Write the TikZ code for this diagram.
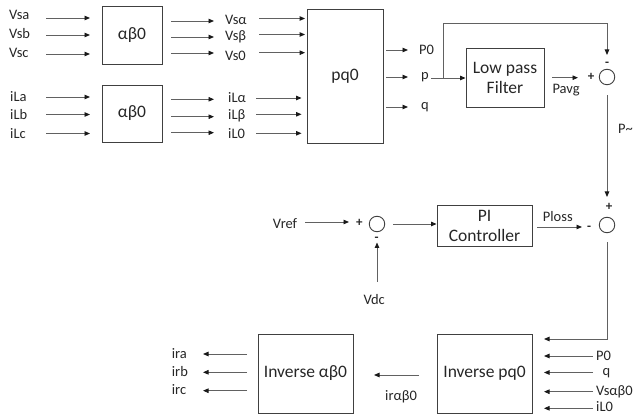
\documentclass[tikz,border=0pt]{standalone}
\usepackage{fontspec}
\setmainfont{Carlito}
\usetikzlibrary{arrows.meta}
\begin{document}
\begin{tikzpicture}[x=1pt,y=-1pt,
  line/.style={draw=black!62, line width=0.9pt},
  arr/.style={line, -{Triangle[length=5.5pt,width=4.5pt,color=black!90]}},
  block/.style={draw=black!75, line width=0.9pt, inner sep=0pt, align=center,
    font=\fontsize{17.5}{20}\selectfont, text=black!85},
  sumj/.style={circle, draw=black!75, line width=0.9pt, minimum size=15.5pt, inner sep=0pt},
  lbl/.style={font=\fontsize{14.5}{16}\selectfont, text=black!85, inner sep=0pt, anchor=base west},
  sgn/.style={font=\fontsize{13}{15}\selectfont\bfseries, text=black!85, inner sep=0pt},
]
\useasboundingbox (0,0) rectangle (634,419);

% ---- blocks ----
\node[block, minimum width=60pt, minimum height=58pt] (abA) at (132,35) {αβ0};
\node[block, minimum width=60pt, minimum height=57pt] (abB) at (132,113.5) {αβ0};
\node[block, minimum width=76pt, minimum height=134pt] (pq) at (345,76) {pq0};
\node[block, minimum width=78pt, minimum height=59pt] (lpf) at (505,77.5) {Low pass\\Filter};
\node[block, minimum width=95pt, minimum height=41pt] (pi) at (484.5,225.5) {PI\\Controller};
\node[block, minimum width=95pt, minimum height=79pt] (ipq) at (484.5,373.5) {Inverse pq0};
\node[block, minimum width=95pt, minimum height=79pt] (iab) at (305.5,373.5) {Inverse αβ0};

% ---- summing junctions ----
\node[sumj] (s1) at (607,77) {};
\node[sumj] (s2) at (607,225) {};
\node[sumj] (s3) at (377,224) {};

% ---- source voltages into the first transform ----
\foreach \n/\y/\b/\t in {a/18/20/Vsa, b/35/39/Vsb, c/54/58/Vsc} {
  \node[lbl] (vs\n) at (9,\b) {\t};
  \coordinate (vs\n s) at (46,\y);
  \coordinate (vs\n e) at (90,\y);
  \draw[arr] (vs\n s) -- (vs\n e);
}
% ---- load currents into the second transform ----
\foreach \n/\y/\b/\t in {a/97/101.7/iLa, b/114.5/119.3/iLb, c/133.5/138.3/iLc} {
  \node[lbl] (il\n) at (10,\b) {\t};
  \coordinate (il\n s) at (46,\y);
  \coordinate (il\n e) at (90,\y);
  \draw[arr] (il\n s) -- (il\n e);
}

% ---- transformed voltages ----
\foreach \n/\ya/\b/\yb/\t in {a/21/25/18.5/Vsα, b/37/41/34.5/Vsβ, c/53/60.7/52.7/Vs0} {
  \coordinate (va\n s) at (171,\ya);
  \coordinate (va\n e) at (214,\ya);
  \draw[arr] (va\n s) -- (va\n e);
  \node[lbl] (vl\n) at (225,\b) {\t};
  \coordinate (vb\n s) at (259,\yb);
  \draw[arr] (vb\n s) -- ([xshift=-1.5pt]vb\n s -| pq.west);
}
% ---- transformed currents ----
\foreach \n/\ya/\b/\yb/\t in {a/99.3/102.7/98/iLα, b/116.7/119.3/114.3/iLβ, c/132.7/138.3/133.3/iL0} {
  \coordinate (ia\n s) at (171,\ya);
  \coordinate (ia\n e) at (214,\ya);
  \draw[arr] (ia\n s) -- (ia\n e);
  \node[lbl] (cl\n) at (228,\b) {\t};
  \coordinate (ib\n s) at (256,\yb);
  \draw[arr] (ib\n s) -- ([xshift=-5pt]ib\n s -| pq.west);
}

% ---- pq0 outputs ----
\foreach \n/\y/\b/\x/\t in {P/50/55/419/P0, p/77/79.3/421/p, q/107/110/421/q} {
  \coordinate (o\n s) at (386,\y);
  \coordinate (o\n e) at (408,\y);
  \draw[arr] (o\n s) -- (o\n e);
  \node[lbl] (ol\n) at (\x,\b) {\t};
}

% ---- p into the filter and to the first junction ----
\coordinate (pst) at (431,78);
\coordinate (pbr) at (443,78);
\coordinate (s1in) at (607,55);
\draw[arr] (pst) -- (pst -| lpf.west);
\draw[arr] (pbr) -- (pbr |- 0,23) -| (s1in);

\coordinate (pavs) at (552,77.7);
\coordinate (pave) at (578,77.7);
\draw[arr] (pavs) -- (pave);
\node[lbl] (pavg) at (552.3,93.3) {Pavg};
\node[sgn] (s1p) at (591,77) {+};
\node[sgn] (s1m) at (607,64) {-};

% ---- oscillating power down to the second junction ----
\coordinate (s2in) at (607,197);
\draw[arr, shorten <=10pt] (s1) -- (s2in);
\node[lbl] (ptl) at (618,134) {P\textasciitilde};
\node[sgn] (s2p) at (609,207) {+};
\node[sgn] (s2m) at (589,228) {-};

% ---- DC voltage loop ----
\coordinate (vrs) at (305,222);
\coordinate (vre) at (349,222);
\draw[arr] (vrs) -- (vre);
\node[lbl] (vref) at (272.7,228.3) {Vref};
\node[sgn] (s3p) at (359.3,223) {+};
\node[sgn] (s3m) at (376.7,239) {-};
\coordinate (vdcs) at (377,282);
\coordinate (vdce) at (377,242.5);
\draw[arr] (vdcs) -- (vdce);
\node[lbl] (vdc) at (363.3,305) {Vdc};
\draw[arr, shorten <=8pt] (s3) -- (s3 -| pi.west);

\coordinate (pls) at (537,227);
\coordinate (ple) at (582,227);
\draw[arr] (pls) -- (ple);
\node[lbl] (ploss) at (542.7,221.7) {Ploss};

% ---- reference power into the inverse transform ----
\coordinate (ipqin) at (544,339);
\draw[arr, shorten <=9pt] (s2) |- (ipqin);

\foreach \n/\y/\b/\x/\t in {P/356/360/596/P0, q/372.5/375/602.3/q, v/391.7/395/596/Vsαβ0, i/408.3/411.7/596/iL0} {
  \coordinate (r\n s) at (593,\y);
  \coordinate (r\n e) at (544,\y);
  \draw[arr] (r\n s) -- (r\n e);
  \node[lbl] (rl\n) at (\x,\b) {\t};
}

% ---- inverse pq0 to inverse alpha-beta-0 ----
\coordinate (irs) at (419,375);
\coordinate (ire) at (374,375);
\draw[arr] (irs) -- (ire);
\node[lbl] (irab) at (385,400.7) {irαβ0};

% ---- compensating currents ----
\foreach \n/\y/\b/\t in {a/354/358.3/ira, b/372.3/376.7/irb, c/390.7/394.3/irc} {
  \coordinate (c\n s) at (247,\y);
  \coordinate (c\n e) at (203,\y);
  \draw[arr] (c\n s) -- (c\n e);
  \node[lbl] (ir\n) at (171.7,\b) {\t};
}
\end{tikzpicture}
\end{document}
